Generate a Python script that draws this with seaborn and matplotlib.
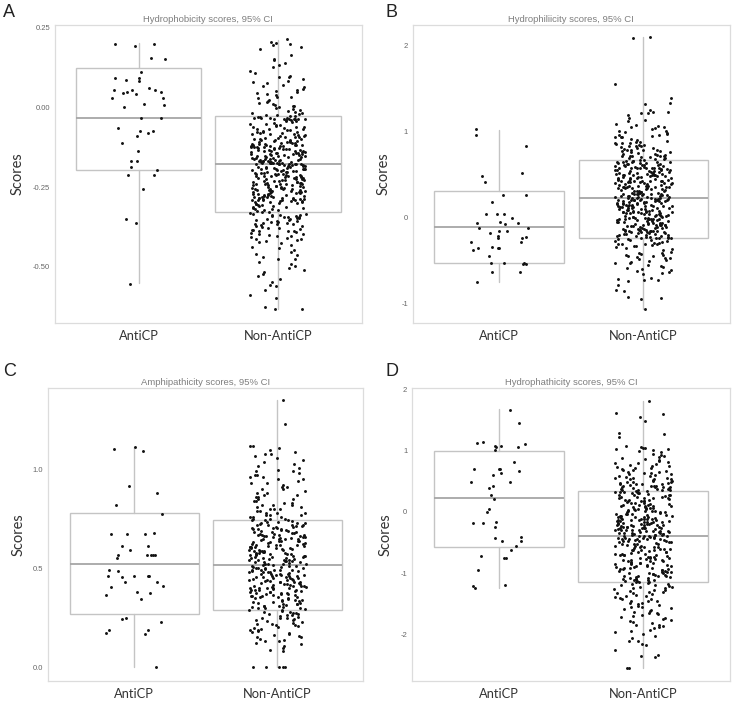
import numpy as np
import pandas as pd
import matplotlib.pyplot as plt
import seaborn as sns

groups = ['AntiCP', 'Non-AntiCP']

# A: hydrophobicity
hphob_anticp = [0.197, 0.197, 0.19, 0.153, 0.15, 0.11, 0.092, 0.09, 0.085, 0.082,
                0.061, 0.053, 0.053, 0.052, 0.048, 0.047, 0.043, 0.042, 0.030, 0.030,
                0.009, 0.008, -0.001, -0.034, -0.034, -0.064, -0.076, -0.076, -0.080, -0.091,
                -0.111, -0.137, -0.17, -0.17, -0.186, -0.197, -0.211, -0.213, -0.255, -0.35,
                -0.362, -0.553]
hphob_non = [0.212, 0.205, 0.201, 0.197, 0.193, 0.188, 0.181, 0.163, 0.150, 0.146,
             0.137, 0.131, 0.126, 0.113, 0.106, 0.098, 0.094, 0.093, 0.089, 0.081,
             0.078, 0.074, 0.070, 0.065, 0.062, 0.058, 0.054, 0.051, 0.047, 0.044,
             0.041, 0.038, 0.033, 0.031, 0.027, 0.022, 0.020, 0.016, 0.013, 0.009,
             0.007, 0.004, 0.002, -0.001, -0.003,
             -0.006, -0.009, -0.012, -0.014, -0.017, -0.019, -0.021, -0.024, -0.026, -0.027,
             -0.029, -0.031, -0.033, -0.034, -0.035, -0.036, -0.037, -0.038, -0.040, -0.042,
             -0.047, -0.052, -0.049, -0.058, -0.061, -0.055, -0.066, -0.063, -0.070, -0.068,
             -0.074, -0.071, -0.079, -0.077, -0.082, -0.080, -0.085, -0.088, -0.084, -0.091,
             -0.093, -0.090, -0.096, -0.099, -0.095, -0.101, -0.104, -0.102, -0.107, -0.105,
             -0.110, -0.108, -0.113, -0.111, -0.116, -0.114, -0.118, -0.120, -0.117, -0.123,
             -0.121, -0.125, -0.127, -0.124, -0.129, -0.131, -0.128, -0.133, -0.135, -0.132,
             -0.137, -0.139, -0.136, -0.141, -0.143, -0.140, -0.145, -0.147, -0.144, -0.149,
             -0.151, -0.148, -0.153, -0.155, -0.152, -0.157, -0.159, -0.156, -0.161, -0.163,
             -0.160, -0.165, -0.167, -0.164, -0.169, -0.171, -0.168, -0.173, -0.175, -0.172,
             -0.176, -0.178, -0.177, -0.179, -0.174, -0.170, -0.166, -0.162, -0.154, -0.146,
             -0.138, -0.130, -0.122, -0.112, -0.100,
             -0.181, -0.183, -0.180, -0.186, -0.184, -0.188, -0.190, -0.187, -0.192, -0.194,
             -0.191, -0.196, -0.198, -0.195, -0.200, -0.202, -0.199, -0.205, -0.203, -0.207,
             -0.209, -0.206, -0.211, -0.213, -0.210, -0.216, -0.214, -0.218, -0.220, -0.217,
             -0.223, -0.221, -0.225, -0.227, -0.224, -0.230, -0.228, -0.232, -0.234, -0.231,
             -0.237, -0.235, -0.239, -0.241, -0.238, -0.244, -0.242, -0.246, -0.248, -0.245,
             -0.251, -0.249, -0.253, -0.255, -0.252, -0.258, -0.256, -0.260, -0.262, -0.259,
             -0.265, -0.263, -0.267, -0.269, -0.266, -0.272, -0.270, -0.274, -0.276, -0.273,
             -0.279, -0.277, -0.281, -0.283, -0.280, -0.286, -0.284, -0.288, -0.290, -0.287,
             -0.293, -0.291, -0.295, -0.297, -0.294, -0.300, -0.298, -0.302, -0.305, -0.308,
             -0.311, -0.314, -0.317, -0.320, -0.323, -0.326, -0.329, -0.285, -0.240, -0.195,
             -0.331, -0.334, -0.333, -0.337, -0.339, -0.336, -0.341, -0.343, -0.340, -0.346,
             -0.348, -0.345, -0.351, -0.353, -0.350, -0.356, -0.358, -0.355, -0.361, -0.363,
             -0.360, -0.366, -0.369, -0.365, -0.372, -0.375, -0.371, -0.378, -0.381, -0.377,
             -0.384, -0.387, -0.383, -0.390, -0.393, -0.389, -0.397, -0.400, -0.396, -0.404,
             -0.408, -0.403, -0.412, -0.416, -0.411, -0.421, -0.425, -0.419, -0.430, -0.436,
             -0.441, -0.447, -0.452, -0.458, -0.464, -0.470, -0.476, -0.475, -0.483, -0.490,
             -0.496, -0.503, -0.510, -0.515, -0.521, -0.529, -0.537, -0.546, -0.555, -0.560,
             -0.573, -0.587, -0.596, -0.626, -0.631, -0.632,
             -0.032, -0.041, -0.044, -0.053, -0.057, -0.062, -0.069, -0.072, -0.078, -0.083,
             -0.087, -0.092, -0.097, -0.103, -0.106, -0.109, -0.115, -0.119, -0.122, -0.126,
             -0.130, -0.134, -0.138, -0.142, -0.146, -0.150, -0.154, -0.158, -0.162, -0.166,
             -0.170, -0.173, -0.176, -0.179, -0.182, -0.185, -0.189, -0.193, -0.197, -0.201,
             -0.204, -0.208, -0.212, -0.215, -0.219, -0.222, -0.226, -0.229, -0.233, -0.236,
             -0.240, -0.243, -0.247, -0.250, -0.254, -0.257, -0.261, -0.264, -0.268, -0.271,
             -0.275, -0.278, -0.282, -0.285, -0.289, -0.292, -0.296, -0.299, -0.303, -0.306,
             -0.310, -0.313, -0.318, -0.322, -0.327, -0.035, -0.036, -0.038, -0.176, -0.177,
             -0.178, -0.179, -0.175, -0.174, -0.036, -0.037, -0.120, -0.125, -0.210, -0.215,
             -0.255, -0.262, -0.282, -0.288, -0.291, -0.344, -0.352, -0.367, -0.388, -0.405]
# box stats: whislo, q1, median, q3, whishi
hphob_box_anticp = [-0.55, -0.197, -0.035, 0.122, 0.20]
hphob_box_non = [-0.63, -0.328, -0.178, -0.028, 0.21]

# B: hydrophilicity
hphil_anticp = [1.023, 0.961, 0.829, 0.519, 0.484, 0.419, 0.26, 0.26, 0.182, 0.039,
                0.039, 0.039, -0.004, -0.054, -0.06, -0.06, -0.077, -0.12, -0.12, -0.151,
                -0.155, -0.175, -0.221, -0.217, -0.24, -0.24, -0.283, -0.283, -0.353, -0.345,
                -0.355, -0.355, -0.372, -0.442, -0.527, -0.539, -0.539, -0.53, -0.53, -0.632,
                -0.632, -0.744]
hphil_non = [2.09, 2.08, 1.55, 1.39, 1.33, 1.32, 1.25, 1.23, 1.22, 1.21,
             1.21, 1.19, 1.15, 1.13, 1.12, 1.09, 1.07, 1.06, 1.05, 1.05,
             1.04, 1.03, 1.01, 1.00, 0.99, 0.98, 0.97, 0.96, 0.96, 0.94,
             0.93, 0.93, 0.91, 0.90, 0.89, 0.88, 0.87, 0.86, 0.86, 0.85,
             0.84, 0.84, 0.83, 0.83, 0.82, 0.81, 0.81, 0.80, 0.79, 0.79,
             0.78, 0.77, 0.77, 0.76, 0.76, 0.75, 0.74, 0.74, 0.73, 0.73,
             0.72, 0.72, 0.71, 0.71, 0.70, 0.70, 0.69, 0.69, 0.68, 0.68,
             0.67, 0.67, 0.66, 0.66, 0.65, 0.65, 0.64, 0.64, 0.63, 0.63,
             0.62, 0.62, 0.61, 0.61, 0.60,
             0.61, 0.60, 0.59, 0.59, 0.58, 0.58, 0.58, 0.57, 0.57, 0.56,
             0.56, 0.55, 0.55, 0.55, 0.54, 0.54, 0.53, 0.53, 0.52, 0.52,
             0.52, 0.51, 0.51, 0.50, 0.50, 0.49, 0.49, 0.49, 0.48, 0.48,
             0.47, 0.47, 0.46, 0.46, 0.46, 0.45, 0.45, 0.44, 0.44, 0.43,
             0.43, 0.43, 0.42, 0.42, 0.41, 0.41, 0.40, 0.40, 0.40, 0.39,
             0.39, 0.38, 0.38, 0.37, 0.37, 0.37, 0.36, 0.36, 0.35, 0.35,
             0.34, 0.34, 0.34, 0.33, 0.33, 0.32, 0.32, 0.31, 0.31, 0.31,
             0.30, 0.30, 0.29, 0.29, 0.28, 0.28, 0.28, 0.27, 0.27, 0.26,
             0.26, 0.25, 0.25, 0.25, 0.24, 0.24, 0.23, 0.23, 0.23, 0.22,
             0.22, 0.22, 0.21, 0.21, 0.20, 0.20, 0.19, 0.19, 0.18, 0.18,
             0.17, 0.17, 0.17, 0.16, 0.16, 0.15, 0.15, 0.14, 0.14, 0.14,
             0.13, 0.13, 0.12, 0.12, 0.11, 0.11, 0.11, 0.10, 0.10, 0.09,
             0.09, 0.08, 0.08, 0.08, 0.07, 0.07, 0.06, 0.06, 0.05, 0.05,
             0.05, 0.04, 0.04, 0.03, 0.03, 0.02, 0.02, 0.02, 0.01, 0.01,
             0.00, 0.00, -0.01, -0.01, -0.02, -0.02, -0.02, -0.03, -0.03, -0.04,
             -0.04, -0.05, -0.05, -0.06, -0.06, -0.06, -0.07, -0.07, -0.08, -0.08,
             -0.09, -0.09, -0.10, -0.10, -0.10, -0.11, -0.11, -0.12, -0.12, -0.13,
             -0.13, -0.14, -0.14, -0.14, -0.15, -0.15, -0.16, -0.16, -0.17, -0.17,
             -0.17, -0.18, -0.18, -0.19, -0.19, -0.20, -0.20, -0.21, -0.21, -0.22,
             -0.22, -0.23, -0.23, -0.24, -0.24, -0.25, -0.25, -0.26, -0.26, -0.27,
             -0.27, -0.28, -0.29, -0.29, -0.30, -0.30, -0.31, -0.32, -0.33, -0.33,
             -0.34, -0.36, -0.38, -0.40, -0.41, -0.42, -0.43, -0.43, -0.44, -0.45,
             -0.46, -0.47, -0.48, -0.49, -0.50, -0.51, -0.52, -0.53, -0.55, -0.57,
             -0.58, -0.59, -0.61, -0.62, -0.63, -0.64, -0.65, -0.70, -0.71, -0.72,
             -0.72, -0.73, -0.78, -0.84, -0.85, -0.92, -0.93, -0.94, -1.06,
             0.66, 0.64, 0.63, 0.61, 0.60, 0.58, 0.57, 0.55, 0.54, 0.52,
             0.51, 0.49, 0.48, 0.46, 0.45, 0.43, 0.42, 0.40, 0.39, 0.37,
             0.36, 0.34, 0.33, 0.31, 0.30, 0.28, 0.27, 0.25, 0.24, 0.22,
             0.21, 0.19, 0.18, 0.16, 0.15, 0.13, 0.12, 0.10, 0.09, 0.07,
             0.06, 0.04, 0.03, 0.01, 0.00, -0.02, -0.03, -0.05, -0.06, -0.08,
             -0.09, -0.11, -0.12, -0.14, -0.15, -0.17, -0.18, -0.20, -0.21, -0.23,
             0.62, 0.57, 0.53, 0.47, 0.41, 0.35, 0.29, 0.23, 0.17, 0.11,
             0.05, -0.01, -0.07, -0.13, -0.19, 0.26, 0.24, 0.20, 0.14, 0.08,
             0.15, 0.17, 0.19, 0.21, 0.23, 0.02, 0.00, -0.04, -0.16, -0.22,
             0.72, 0.78, 0.83, 0.88, 0.95, -0.30, -0.35, -0.41, -0.47, -0.56]
hphil_box_anticp = [-0.74, -0.52, -0.108, 0.306, 1.015]
hphil_box_non = [-1.06, -0.236, 0.225, 0.674, 2.09]

# C: amphipathicity
amph_anticp = [1.113, 1.095, 1.102, 0.917, 0.882, 0.818, 0.777, 0.68, 0.676, 0.676,
               0.676, 0.612, 0.612, 0.593, 0.568, 0.568, 0.568, 0.568, 0.568, 0.55,
               0.487, 0.49, 0.462, 0.462, 0.462, 0.462, 0.457, 0.432, 0.432, 0.412,
               0.405, 0.377, 0.38, 0.367, 0.343, 0.243, 0.247, 0.227, 0.189, 0.189,
               0.17, 0.173, 0.0]
amph_non = [1.35, 1.23, 1.12, 1.12, 1.11, 1.10, 1.09, 1.08, 1.08, 1.07,
            1.06, 1.05, 1.04, 1.03, 1.02, 1.01,
            1.00, 0.99, 0.99, 0.98, 0.97, 0.97, 0.96, 0.95, 0.95, 0.94,
            0.93, 0.93, 0.92, 0.91, 0.90, 0.90, 0.89, 0.88, 0.88, 0.87,
            0.86, 0.86, 0.85, 0.85, 0.84, 0.84, 0.83, 0.83, 0.82, 0.82,
            0.81, 0.81, 0.80, 0.80, 0.80, 0.79, 0.79, 0.78, 0.78, 0.78,
            0.77, 0.77, 0.77, 0.76, 0.76, 0.76, 0.75, 0.75, 0.75, 0.745,
            0.742, 0.738, 0.734, 0.731, 0.727, 0.724, 0.720, 0.717, 0.713, 0.710,
            0.706, 0.703, 0.699, 0.696, 0.692, 0.689, 0.685, 0.682, 0.678, 0.675,
            0.671, 0.668, 0.664, 0.661, 0.657, 0.654, 0.650, 0.647, 0.643, 0.640,
            0.636, 0.633, 0.629, 0.626, 0.622, 0.619, 0.615, 0.612, 0.608, 0.605,
            0.601, 0.598, 0.594, 0.591, 0.587, 0.584, 0.580, 0.577, 0.573, 0.570,
            0.566, 0.563, 0.559, 0.556, 0.552, 0.549, 0.545, 0.542, 0.538, 0.535,
            0.531, 0.528, 0.524, 0.521, 0.517, 0.514, 0.510, 0.507, 0.503, 0.500,
            0.496, 0.493, 0.489, 0.486, 0.482, 0.479, 0.475, 0.472, 0.468, 0.465,
            0.461, 0.458, 0.454, 0.451, 0.447, 0.444, 0.440, 0.437, 0.433, 0.430,
            0.426, 0.423, 0.419, 0.416, 0.412, 0.409, 0.405, 0.402, 0.398, 0.395,
            0.391, 0.388, 0.384, 0.381, 0.377, 0.374, 0.370, 0.367, 0.363, 0.360,
            0.356, 0.353, 0.349, 0.346, 0.342, 0.339, 0.335, 0.332, 0.328, 0.325,
            0.321, 0.318, 0.314, 0.311, 0.307, 0.304, 0.300, 0.297, 0.293, 0.290,
            0.68, 0.64, 0.61, 0.57, 0.54, 0.51, 0.47, 0.44, 0.41, 0.38,
            0.66, 0.62, 0.59, 0.56, 0.52, 0.49, 0.46, 0.43, 0.40, 0.36,
            0.287, 0.284, 0.281, 0.278, 0.275, 0.272, 0.268, 0.265, 0.262, 0.258,
            0.255, 0.251, 0.248, 0.244, 0.240, 0.236, 0.232, 0.228, 0.224, 0.220,
            0.215, 0.211, 0.207, 0.202, 0.198, 0.193, 0.188, 0.183, 0.178, 0.173,
            0.168, 0.162, 0.156, 0.150, 0.144, 0.138, 0.131, 0.124, 0.116, 0.107,
            0.098, 0.089, 0.079, 0.0, 0.0, 0.0, 0.0, 0.0,
            0.742, 0.735, 0.728, 0.719, 0.712, 0.705, 0.697, 0.690, 0.683, 0.676,
            0.668, 0.661, 0.654, 0.646, 0.639, 0.632, 0.625, 0.617, 0.610, 0.603,
            0.595, 0.588, 0.581, 0.574, 0.566, 0.559, 0.552, 0.544, 0.537, 0.530,
            0.523, 0.515, 0.508, 0.501, 0.493, 0.486, 0.479, 0.472, 0.464, 0.457,
            0.450, 0.442, 0.435, 0.428, 0.421, 0.413, 0.406, 0.399, 0.391, 0.384,
            0.377, 0.370, 0.362, 0.355, 0.348, 0.340, 0.333, 0.326, 0.319, 0.311,
            0.304, 0.297, 0.58, 0.59, 0.60, 0.61, 0.62, 0.47, 0.46, 0.45,
            0.44, 0.43, 0.39, 0.38, 0.37, 0.70, 0.71, 0.72, 0.53, 0.54,
            0.55, 0.56, 0.65, 0.66, 0.67, 0.50, 0.49, 0.48, 0.41, 0.40,
            0.82, 0.87, 0.91, 0.96, 0.25, 0.22, 0.19, 0.15, 0.27, 0.13]
amph_box_anticp = [0.0, 0.267, 0.523, 0.779, 1.115]
amph_box_non = [0.0, 0.289, 0.517, 0.745, 1.35]

# D: hydropathicity
hpath_anticp = [1.666, 1.445, 1.137, 1.118, 1.113, 1.08, 1.075, 1.058, 1.058, 1.016,
                0.806, 0.703, 0.703, 0.703, 0.661, 0.629, 0.602, 0.494, 0.494, 0.424,
                0.395, 0.274, 0.203, 0.048, -0.006, -0.161, -0.177, -0.183, -0.242, -0.41,
                -0.419, -0.474, -0.474, -0.555, -0.624, -0.748, -0.748, -0.726, -0.952, -1.216,
                -1.248, -1.2]
hpath_non = [1.81, 1.62, 1.60, 1.55, 1.48, 1.28, 1.27, 1.22, 1.08, 1.06,
             1.05, 1.04, 1.03, 1.02, 1.01, 0.99, 0.97, 0.95, 0.93, 0.91,
             0.90, 0.88, 0.86, 0.85, 0.83, 0.82, 0.80, 0.79, 0.78, 0.76,
             0.75, 0.74, 0.72, 0.71, 0.70, 0.69, 0.68, 0.66, 0.65, 0.64,
             0.63, 0.62, 0.61, 0.60, 0.59, 0.58, 0.57, 0.56, 0.55, 0.54,
             0.53, 0.53, 0.52, 0.51, 0.50, 0.49, 0.49, 0.48, 0.47, 0.47,
             0.46, 0.45, 0.45, 0.44, 0.43, 0.43, 0.42, 0.42, 0.41, 0.41,
             0.40, 0.40, 0.39, 0.39, 0.38, 0.38, 0.37, 0.37, 0.36, 0.36,
             0.35, 0.35, 0.34, 0.34, 0.33, 0.33, 0.32, 0.31, 0.30, 0.29,
             0.28, 0.28, 0.27, 0.26, 0.25, 0.24, 0.23, 0.22, 0.21, 0.20,
             0.19, 0.18, 0.17, 0.16, 0.15, 0.14, 0.13, 0.12, 0.11, 0.10,
             0.10, 0.09, 0.08, 0.07, 0.06, 0.05, 0.04, 0.03, 0.02, 0.02,
             0.01, 0.00, -0.01, -0.02, -0.03, -0.03, -0.04, -0.05, -0.06, -0.06,
             -0.07, -0.08, -0.09, -0.09, -0.10, -0.11, -0.12, -0.12, -0.13, -0.14,
             -0.15, -0.15, -0.16, -0.17, -0.18, -0.18, -0.19, -0.20, -0.21, -0.21,
             -0.22, -0.23, -0.24, -0.24, -0.25, -0.26, -0.27, -0.27, -0.28, -0.29,
             -0.30, -0.30, -0.31, -0.32, -0.33, -0.33, -0.34, -0.35, -0.36, -0.36,
             -0.37, -0.38, -0.39, -0.39, -0.40, -0.41, -0.42, -0.43, -0.44, -0.45,
             -0.46, -0.47, -0.48, -0.49, -0.50, -0.51, -0.52, -0.53, -0.54, -0.55,
             -0.56, -0.57, -0.58, -0.59, -0.60, -0.61, -0.62, -0.63, -0.64, -0.65,
             -0.66, -0.67, -0.68, -0.69, -0.70, -0.71, -0.72, -0.73, -0.74, -0.75,
             -0.76, -0.77, -0.78, -0.79, -0.80, -0.81, -0.82, -0.83, -0.84, -0.85,
             -0.86, -0.87, -0.88, -0.89, -0.90, -0.91, -0.92, -0.93, -0.94, -0.95,
             -0.96, -0.97, -0.98, -0.99, -1.00, -1.01, -1.02, -1.03, -1.04, -1.05,
             -1.06, -1.07, -1.08, -1.09, -1.10, -1.11, -1.12, -1.13, -1.14, -1.14,
             -0.45, -0.52, -0.58, -0.63, -0.71, -0.77, -0.84, -0.92, -0.98, -1.04,
             -1.15, -1.16, -1.17, -1.18, -1.19, -1.20, -1.21, -1.22, -1.23, -1.24,
             -1.25, -1.26, -1.27, -1.28, -1.29, -1.30, -1.31, -1.32, -1.33, -1.34,
             -1.35, -1.37, -1.38, -1.39, -1.40, -1.42, -1.43, -1.45, -1.46, -1.48,
             -1.49, -1.51, -1.52, -1.54, -1.56, -1.57, -1.59, -1.60, -1.62, -1.63,
             -1.65, -1.67, -1.68, -1.70, -1.72, -1.74, -1.76, -1.78, -1.80, -1.82,
             -1.84, -1.86, -1.88, -1.90, -1.93, -1.96, -1.99, -2.02, -2.06, -2.10,
             -2.11, -2.18, -2.25, -2.33, -2.37, -2.55, -2.55,
             0.32, 0.30, 0.27, 0.25, 0.22, 0.20, 0.17, 0.15, 0.12, 0.10,
             0.07, 0.05, 0.02, 0.00, -0.03, -0.05, -0.08, -0.10, -0.13, -0.15,
             -0.18, -0.20, -0.23, -0.25, -0.28, -0.30, -0.33, -0.35, -0.38, -0.40,
             -0.43, -0.45, -0.48, -0.50, -0.53, -0.55, -0.58, -0.60, -0.63, -0.65,
             -0.68, -0.70, -0.73, -0.75, -0.78, -0.80, -0.83, -0.85, -0.88, -0.90,
             -0.93, -0.95, -0.98, -1.00, -1.03, -1.05, -1.08, -1.10, -1.12, -1.13,
             -0.11, -0.12, -0.14, -0.16, -0.17, -0.19, -0.21, -0.22, -0.24, -0.26,
             -0.27, -0.29, -0.31, -0.32, -0.34, -0.36, -0.37, -0.39, -0.41, -0.42,
             -0.44, -0.46, -0.47, 0.03, 0.08, 0.13, 0.18, 0.23, 0.45, 0.55,
             0.65, 0.75, -1.45, -1.55, -1.65, -1.75, -1.85, -1.95, -2.15, -2.35]
hpath_box_anticp = [-1.25, -0.57, 0.226, 1.0, 1.68]
hpath_box_non = [-2.55, -1.14, -0.40, 0.34, 1.81]

panels = [
    ('A', 'Hydrophobicity scores, 95% CI', hphob_anticp, hphob_non, hphob_box_anticp, hphob_box_non,
     [-0.5, -0.25, 0.0, 0.25], ['-0.50', '-0.25', '0.00', '0.25'], (-0.675, 0.256)),
    ('B', 'Hydrophiliicity scores, 95% CI', hphil_anticp, hphil_non, hphil_box_anticp, hphil_box_non,
     [-1, 0, 1, 2], ['-1', '0', '1', '2'], (-1.22, 2.23)),
    ('C', 'Amphipathicity scores, 95% CI', amph_anticp, amph_non, amph_box_anticp, amph_box_non,
     [0.0, 0.5, 1.0], ['0.0', '0.5', '1.0'], (-0.07, 1.415)),
    ('D', 'Hydrophathicity scores, 95% CI', hpath_anticp, hpath_non, hpath_box_anticp, hpath_box_non,
     [-2, -1, 0, 1, 2], ['-2', '-1', '0', '1', '2'], (-2.76, 2.03)),
]

# axes rectangles (fig fraction) and letter / ylabel placement
rects = [[0.075, 0.540, 0.419, 0.424], [0.564, 0.540, 0.433, 0.424],
         [0.066, 0.030, 0.430, 0.418], [0.563, 0.030, 0.434, 0.418]]
letter_pos = [(0.004, 0.995), (0.526, 0.995), (0.004, 0.483), (0.526, 0.483)]
ylab_x = [-0.098, -0.069, -0.073, -0.061]

sns.set_style('white')
plt.rcParams['font.family'] = ['Liberation Sans', 'DejaVu Sans']
np.random.seed(7)

fig = plt.figure(figsize=(7.32, 7.02), dpi=100)

for i, (letter, title, anticp, non, box_a, box_n, yt, ytl, ylim) in enumerate(panels):
    ax = fig.add_axes(rects[i])
    df = pd.DataFrame({'group': ['AntiCP'] * len(anticp) + ['Non-AntiCP'] * len(non),
                       'score': anticp + non})

    sns.stripplot(data=df, x='group', y='score', order=groups, jitter=0.2, size=2.1,
                  color='#111111', linewidth=0, ax=ax, zorder=3)

    stats = []
    for lab, b in zip(groups, [box_a, box_n]):
        stats.append(dict(label=lab, whislo=b[0], q1=b[1], med=b[2], q3=b[3], whishi=b[4], fliers=[]))
    ax.bxp(stats, positions=[0, 1], widths=0.9, showcaps=False, showfliers=False,
           patch_artist=True, manage_ticks=False,
           boxprops=dict(facecolor='white', edgecolor='#c4c4c4', linewidth=1.0),
           whiskerprops=dict(color='#c4c4c4', linewidth=1.0),
           medianprops=dict(color='#a6a6a6', linewidth=1.3), zorder=1)

    ax.set_xlim(-0.6, 1.6)
    ax.set_ylim(*ylim)
    ax.set_yticks(yt)
    ax.set_yticklabels(ytl)
    ax.set_xticks([0, 1])
    ax.set_xticklabels(groups, fontfamily='Lato', fontsize=9.3, color='#333333')
    ax.tick_params(axis='y', length=2, width=0.6, color='#b0b0b0', labelsize=5.5,
                   labelcolor='#666666', pad=1.5)
    ax.tick_params(axis='x', length=2, width=0.6, color='#b0b0b0', pad=3)
    for sp in ax.spines.values():
        sp.set_color('#dcdcdc')
        sp.set_linewidth(0.9)
    ax.set_xlabel('')
    ax.set_ylabel('Scores', fontfamily='Lato', fontsize=10.5, color='#333333')
    ax.yaxis.set_label_coords(ylab_x[i], 0.5)
    ax.set_title(title, fontsize=6.8, color='#7f7f7f', pad=2)
    fig.text(letter_pos[i][0], letter_pos[i][1], letter, fontsize=13, color='#222222',
             ha='left', va='top')

fig.savefig('out.png', dpi=100)
